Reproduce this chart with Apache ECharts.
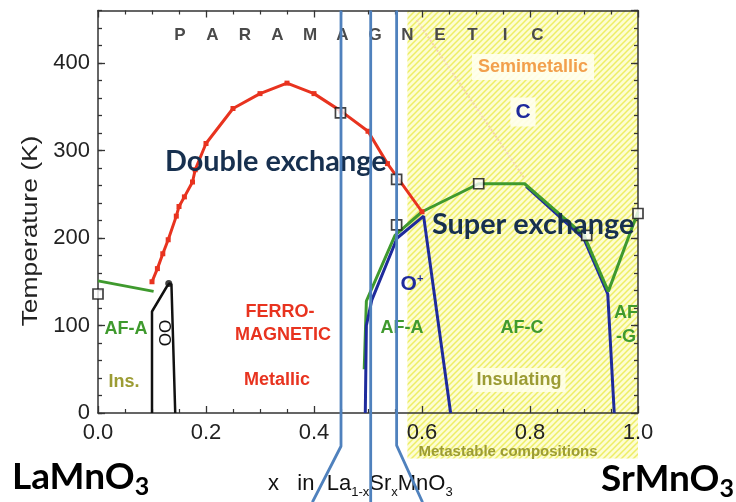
<!DOCTYPE html>
<html><head><meta charset="utf-8">
<script src="https://cdn.jsdelivr.net/npm/echarts@6/dist/echarts.min.js"></script>
<style>html,body{margin:0;padding:0;background:#fff}#c{width:736px;height:502px}</style>
</head><body><div id="c"></div>
<script>
// ---------------- data (x = Sr content, T in K) ----------------
const fmTc = [[0.10,150],[0.11,165],[0.12,182],[0.13,198],[0.145,225],[0.15,236],[0.16,247],[0.175,264],[0.18,278],[0.20,308],[0.25,348],[0.30,365],[0.35,377],[0.40,365],[0.45,345],[0.50,322],[0.536,285],[0.60,230]];
const afaLeft = [[0.0,151],[0.103,139]];
const ooBoundary = [[0.10,0],[0.10,116],[0.127,144],[0.132,148],[0.136,147],[0.143,0]];
const ooTop = [[0.131,148]];
const tnGreen = [[0.493,50],[0.497,128],[0.55,203],[0.60,230],[0.705,262],[0.79,262],[0.90,203],[0.945,139],[1.0,230]];
const blueA = [[0.495,0],[0.497,100],[0.507,129],[0.554,200],[0.603,225],[0.653,0]];
const blueC = [[0.793,259],[0.90,199],[0.944,136],[0.956,0]];
const openSquares = [[0.0,136],[0.449,343],[0.553,267],[0.553,215],[0.705,262],[0.905,203],[1.0,228]];
const semimetalBoundary = [[0.59,449],[0.79,268]];
const metastableX = [0.573, 1.0];
const overlayLines = [
  [[0.45,460],[0.45,-38],[0.397,-102]],
  [[0.505,460],[0.505,-102]],
  [[0.553,460],[0.553,-37],[0.601,-102]]
];
const xTickValues = [0.0,0.2,0.4,0.6,0.8,1.0];
const yTickValues = [0,100,200,300,400];

// ---------------- styles ----------------
const F = '"Liberation Sans", Arial, sans-serif';
const FC = 'Lato, "Open Sans", sans-serif';
const RED = '#e8331f', GREEN = '#3f9a2e', BLUE = '#1f2b9c', OLIVE = '#9c9c34', NAVY = '#17304f', OVER = '#4f81bd';

function makeHatch(){
  const c = document.createElement('canvas'); c.width = 6; c.height = 6;
  const g = c.getContext('2d');
  g.fillStyle = '#fdfdd2'; g.fillRect(0,0,6,6);
  g.strokeStyle = '#eeee66'; g.lineWidth = 1.5;
  g.beginPath();
  g.moveTo(-1,7); g.lineTo(7,-1);
  g.moveTo(-1,1); g.lineTo(1,-1);
  g.moveTo(5,7); g.lineTo(7,5);
  g.stroke();
  return c;
}
const hatch = makeHatch();

const chart = echarts.init(document.getElementById('c'), null, {renderer:'canvas'});
const yMax = 460;

const axisLineStyle = {color:'#333', width:1.5};
function xAx(pos, labels){
  return {type:'value', min:0, max:1, interval:0.2, position:pos,
    axisLine:{show:true, onZero:false, lineStyle:axisLineStyle},
    axisTick:{show:true, inside:true, length:7, lineStyle:{color:'#333', width:1.3}},
    minorTick:{show:true, splitNumber:4, length:4, lineStyle:{color:'#333', width:1.2}},
    splitLine:{show:false}, minorSplitLine:{show:false},
    axisLabel:{show:labels, margin:9, fontSize:22, fontFamily:F, color:'#222',
      formatter:v => xTickValues.some(t=>Math.abs(t-v)<1e-9) ? v.toFixed(1) : ''}};
}
function yAx(pos, interval, len, labels, line){
  return {type:'value', min:0, max:yMax, interval, position:pos,
    axisLine:{show:line, onZero:false, lineStyle:axisLineStyle},
    axisTick:{show:true, inside:true, length:len, lineStyle:{color:'#333', width:1.3}},
    splitLine:{show:false},
    axisLabel:{show:labels, margin:8, fontSize:22, fontFamily:F, color:'#222', showMaxLabel:false,
      formatter:v => yTickValues.indexOf(v) >= 0 ? String(v) : ''}};
}

const lineS = (data, color, width, extra) => Object.assign({type:'line', data, silent:true, symbol:'none',
  lineStyle:{color, width}, itemStyle:{color}, animation:false, z:3}, extra||{});

const series = [
  {type:'custom', silent:true, z:-1, clip:false, data:[metastableX], animation:false,
   renderItem:(p, api) => {
     const a = api.coord([metastableX[0], yMax]);
     const b = api.coord([metastableX[1], -52]);
     return {type:'rect', shape:{x:a[0], y:a[1], width:b[0]-a[0], height:b[1]-a[1]},
       style:{fill:{image:hatch, repeat:'repeat'}}};
   }},
  lineS(semimetalBoundary, '#f3d3b0', 2, {lineStyle:{color:'#f3d3b0', width:2, type:'dotted'}, z:1}),
  lineS(afaLeft, GREEN, 3),
  lineS(fmTc, RED, 3, {symbol:'rect', symbolSize:5, showAllSymbol:true}),
  lineS(ooBoundary, '#111', 2.5),
  lineS(tnGreen, GREEN, 3),
  lineS(blueA, BLUE, 3, {z:4}),
  lineS(blueC, BLUE, 3, {z:2}),
  {type:'scatter', data:ooTop, symbol:'circle', symbolSize:7, itemStyle:{color:'#111'}, silent:true, z:5, animation:false},
  {type:'scatter', data:openSquares, symbol:'rect', symbolSize:10, silent:true, z:6, animation:false,
   itemStyle:{color:'#fff', borderColor:'#111', borderWidth:1.7}},
].concat(overlayLines.map(l => lineS(l, OVER, 2.8, {clip:false, z:30})));

// ---------------- text annotations ----------------
const T = (x, y, text, font, fill, o) => ({type:'text', x, y, z:(o&&o.z)||20, rotation:(o&&o.rot)||0,
  scaleX:(o&&o.sx)||1, scaleY:(o&&o.sy)||1,
  style:Object.assign({text, font, fill, align:'center', verticalAlign:'middle'}, (o&&o.style)||{})});
const B18 = 'bold 18px ' + F;
const letters = 'PARAMAGNETIC'.split('');
const graphics = [];
letters.forEach((ch,i) => graphics.push(T(180 + i*32.5, 35, ch, 'bold 17px ' + F, '#4a4a4a')));
const formula = (txt, sub) => '{m|' + txt + '}{s|' + sub + '}';
const formulaRich = {m:{font:'bold 37px ' + FC, fill:'#000', lineHeight:44, verticalAlign:'middle'},
                     s:{font:'bold 25px ' + FC, fill:'#000', lineHeight:24, verticalAlign:'bottom'}};
graphics.push(
  T(280, 312, 'FERRO-', B18, RED),
  T(283, 335, 'MAGNETIC', B18, RED),
  T(277, 380, 'Metallic', B18, RED),
  T(126, 329, 'AF-A', B18, GREEN),
  T(124, 382, 'Ins.', B18, OLIVE),
  T(166, 333, 'OO', '17px ' + F, '#111', {rot:Math.PI/2}),
  T(412, 284, '{o|O}{s|+}', null, BLUE, {style:{rich:{o:{font:'bold 21px ' + F, fill:BLUE}, s:{font:'bold 11px ' + F, fill:BLUE, verticalAlign:'top', padding:[0,0,10,0]}}}}),
  T(402, 328, 'AF-A', B18, GREEN),
  T(522, 328, 'AF-C', B18, GREEN),
  T(626, 313, 'AF', B18, GREEN),
  T(626, 337, '-G', B18, GREEN),
  T(519, 380, 'Insulating', B18, OLIVE, {style:{backgroundColor:'rgba(255,255,236,0.85)', padding:[3,4]}}),
  T(508, 452, 'Metastable compositions', 'bold 15px ' + F, OLIVE),
  T(533, 67, 'Semimetallic', B18, '#f2a04c', {style:{backgroundColor:'rgba(255,255,238,0.9)', padding:[4,6]}}),
  T(523, 112, 'C', 'bold 21px ' + F, BLUE, {style:{backgroundColor:'rgba(255,255,238,0.9)', padding:[4,5]}}),
  T(165, 162, 'Double exchange', 'bold 28px ' + FC, NAVY, {sx:1.03, style:{align:'left'}}),
  T(432, 225, 'Super exchange', 'bold 28px ' + FC, NAVY, {sx:1.03, style:{align:'left'}}),
  T(31, 231, 'Temperature (K)', '22px ' + F, '#222', {rot:Math.PI/2, sx:1.2}),
  T(12, 477, formula('LaMnO','3'), null, '#000', {style:{align:'left', rich:formulaRich}}),
  T(734, 479, formula('SrMnO','3'), null, '#000', {style:{align:'right', rich:formulaRich}}),
  T(268, 484, '{n|x   in  La}{s|1-x}{n|Sr}{s|x}{n|MnO}{s|3}', null, '#111', {style:{align:'left', rich:{n:{font:'22px ' + F, fill:'#111', lineHeight:30, verticalAlign:'middle'}, s:{font:'13px ' + F, fill:'#111', lineHeight:14, verticalAlign:'bottom'}}}})
);

chart.setOption({
  animation:false,
  backgroundColor:'#fff',
  grid:{left:98, right:98, top:10.5, bottom:89, containLabel:false, outerBoundsMode:'none'},
  xAxis:[xAx('bottom', true), xAx('top', false)],
  yAxis:[yAx('left',100,7,true,true), yAx('left',20,4,false,false), yAx('right',100,7,false,true), yAx('right',20,4,false,false)],
  series: series.map(s => Object.assign({xAxisIndex:0, yAxisIndex:0}, s)),
  graphic: graphics
});
</script></body></html>
